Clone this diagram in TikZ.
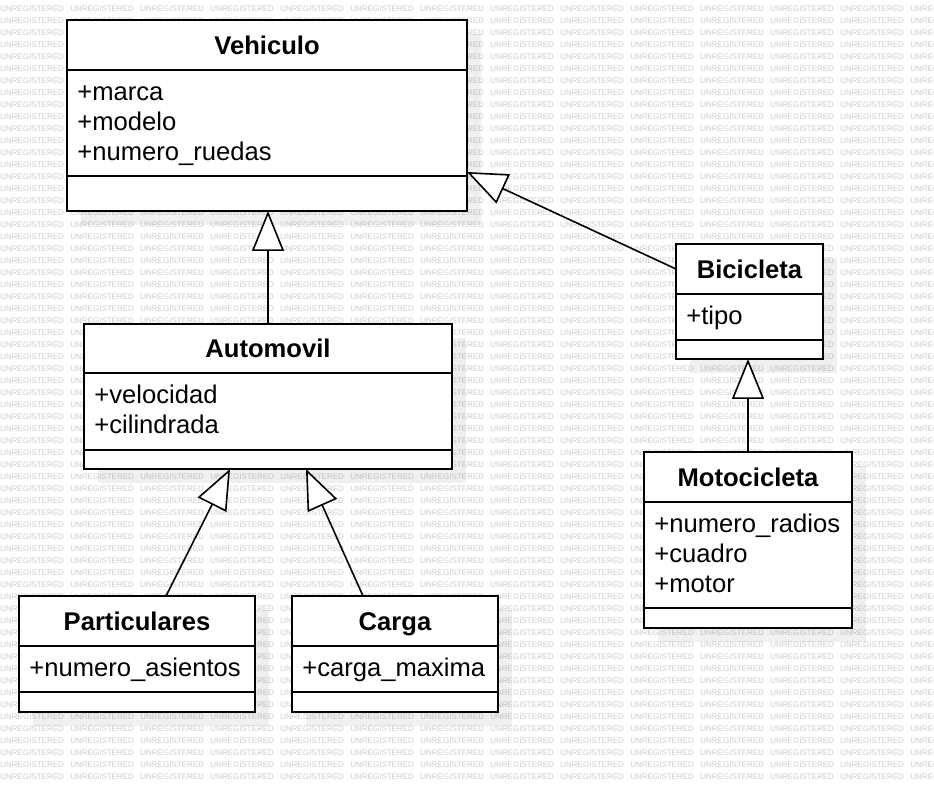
\documentclass[tikz,border=0pt]{standalone}
\usepackage{fontspec}
\setmainfont{Liberation Sans}
\usetikzlibrary{positioning,arrows.meta,shadows}

\begin{document}
\begin{tikzpicture}[x=0.5pt,y=-0.5pt,font=\fontsize{12.8}{15}\selectfont,
 wm/.style={anchor=west,inner sep=0pt,text=black!20,font=\fontsize{4}{4}\selectfont},
 part/.style={draw,line width=1pt,fill=white,outer sep=0pt,
 drop shadow={shadow xshift=7pt,shadow yshift=-7pt,fill=black,opacity=0.06}},
 ttl/.style={part,anchor=north west,minimum height=25pt,text height=9.2pt,text depth=0pt,
 font=\fontsize{12.8}{15}\selectfont\bfseries},
 attr/.style={part,below=0pt of #1,inner sep=0pt},
 ops/.style={part,below=0pt of #1,inner sep=0pt},
 atxt/.style={anchor=north west,align=left,inner xsep=5pt,inner ysep=4.6pt},
 gen/.style={-{Triangle[fill=white,length=20pt,width=16pt]},line width=0.8pt}]
\useasboundingbox (0,0) rectangle (934,792);
% watermark
\foreach \r in {0,...,64}
 \foreach \c in {0,...,13}
 \node[wm] (wm-\r-\c) at (\c*70,8.7+\r*12) {UNREGISTERED};
% classes
\node[ttl,minimum width=200pt] (vehT) at (67,20) {Vehiculo};
\node[attr=vehT,minimum width=200pt,minimum height=53pt] (vehA) {};
\node[ops=vehA,minimum width=200pt,minimum height=17.5pt] (vehO) {};
\node[atxt] (vehL) at (vehA.north west) {\strut+marca\\+modelo\\+numero\_ruedas};
\node[ttl,minimum width=73.5pt] (biciT) at (676,244) {Bicicleta};
\node[attr=biciT,minimum width=73.5pt,minimum height=23pt] (biciA) {};
\node[ops=biciA,minimum width=73.5pt,minimum height=9.5pt] (biciO) {};
\node[atxt] (biciL) at (biciA.north west) {\strut+tipo};
\node[ttl,minimum width=184pt,minimum height=24.5pt] (autoT) at (84,324) {Automovil};
\node[attr=autoT,minimum width=184pt,minimum height=38.5pt] (autoA) {};
\node[ops=autoA,minimum width=184pt,minimum height=9.5pt] (autoO) {};
\node[atxt] (autoL) at (autoA.north west) {\strut+velocidad\\+cilindrada};
\node[ttl,minimum width=104pt] (motoT) at (644,452) {Motocicleta};
\node[attr=motoT,minimum width=104pt,minimum height=53pt] (motoA) {};
\node[ops=motoA,minimum width=104pt,minimum height=10pt] (motoO) {};
\node[atxt] (motoL) at (motoA.north west) {\strut+numero\_radios\\+cuadro\\+motor};
\node[ttl,minimum width=118pt] (partT) at (19,596) {Particulares};
\node[attr=partT,minimum width=118pt,minimum height=23pt] (partA) {};
\node[ops=partA,minimum width=118pt,minimum height=10pt] (partO) {};
\node[atxt] (partL) at (partA.north west) {\strut+numero\_asientos};
\node[ttl,minimum width=103pt] (cargaT) at (292,596) {Carga};
\node[attr=cargaT,minimum width=103pt,minimum height=23pt] (cargaA) {};
\node[ops=cargaA,minimum width=103pt,minimum height=10pt] (cargaO) {};
\node[atxt] (cargaL) at (cargaA.north west) {\strut+carga\_maxima};
% generalizations
\draw[gen] (autoT.north) -- (autoT.north |- vehO.south);
\draw[gen] (biciT.west) -- ([yshift=2pt]vehA.south east);
\draw[gen] (motoT.north) -- (motoT.north |- biciO.south);
\draw[gen] ([xshift=14.5pt]partT.north) -- ([xshift=-19pt]autoO.south);
\draw[gen] ([xshift=-16pt]cargaT.north) -- ([xshift=19pt]autoO.south);
\end{tikzpicture}
\end{document}
